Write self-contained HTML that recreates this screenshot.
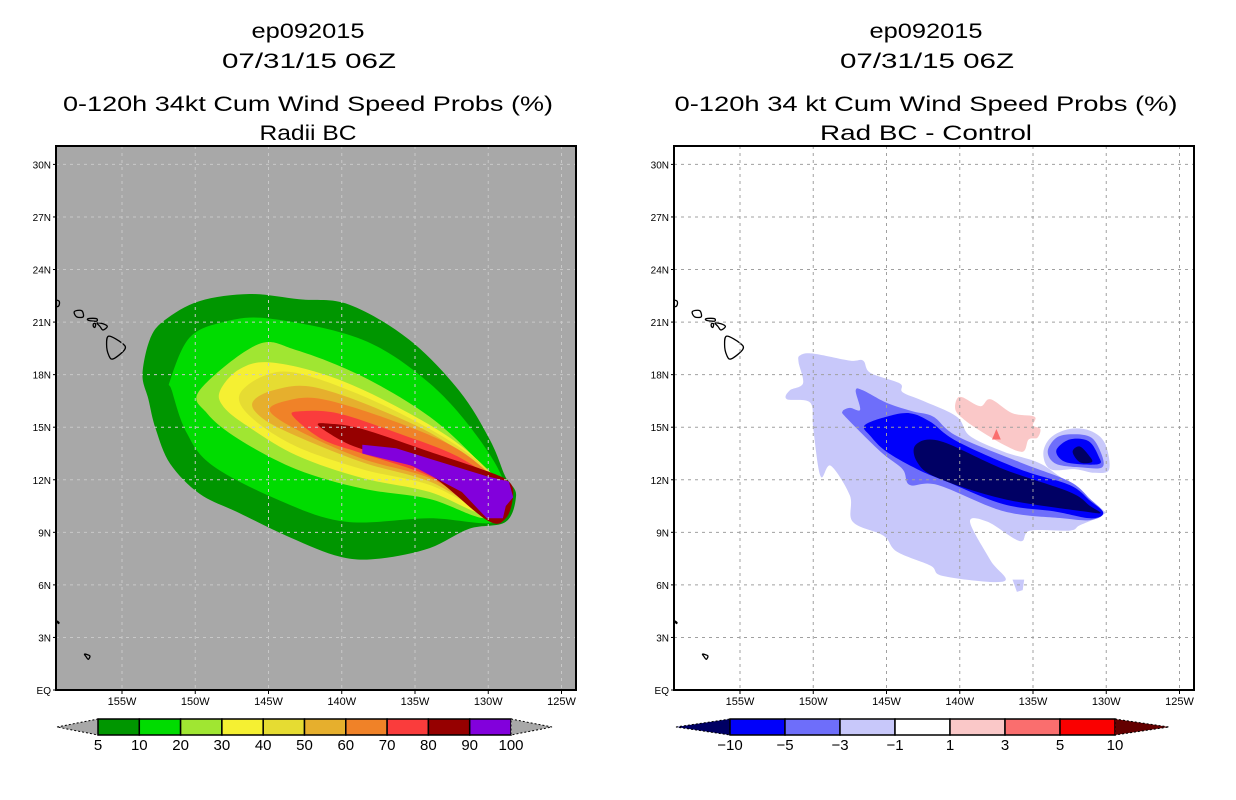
<!DOCTYPE html>
<html><head><meta charset="utf-8"><title>ep092015 wind speed probs</title>
<style>
html,body{margin:0;padding:0;background:#fff;}
svg{display:block;font-family:"Liberation Sans",sans-serif;}
</style></head>
<body>
<svg id="fig" width="1236" height="800" viewBox="0 0 1236 800" xmlns="http://www.w3.org/2000/svg">
<defs>
<clipPath id="clipL"><rect x="56" y="146" width="520" height="544"/></clipPath>
<clipPath id="clipR"><rect x="674" y="146" width="520" height="544"/></clipPath>
</defs>
<g font-size="21" text-anchor="middle" fill="#000">
<text x="308" y="38" textLength="113" lengthAdjust="spacingAndGlyphs">ep092015</text>
<text x="309" y="68" textLength="174" lengthAdjust="spacingAndGlyphs">07/31/15 06Z</text>
<text x="308" y="111" textLength="490" lengthAdjust="spacingAndGlyphs">0-120h 34kt Cum Wind Speed Probs (%)</text>
<text x="308" y="140" textLength="97" lengthAdjust="spacingAndGlyphs">Radii BC</text>
</g>
<g font-size="21" text-anchor="middle" fill="#000">
<text x="926" y="38" textLength="113" lengthAdjust="spacingAndGlyphs">ep092015</text>
<text x="927" y="68" textLength="174" lengthAdjust="spacingAndGlyphs">07/31/15 06Z</text>
<text x="926" y="111" textLength="503" lengthAdjust="spacingAndGlyphs">0-120h 34 kt Cum Wind Speed Probs (%)</text>
<text x="926" y="140" textLength="212" lengthAdjust="spacingAndGlyphs">Rad BC - Control</text>
</g>
<g id="left"></g>
<g id="right"></g>
<g id="cbars"></g>
</svg>
<script>
// ---- data (lon in degrees West, lat in degrees North) ----
var probLevels = [5,10,20,30,40,50,60,70,80,90,100];
var probColors = ["#009600","#00dc00","#a0e632","#f5f032","#e6dc32","#e6af2d","#f08228","#fa3c3c","#960000","#8200dc"];
var diffLevels = [-10,-5,-3,-1,1,3,5,10];
var diffColors = ["#000064","#0000fa","#6e6efa","#c8c8fa","#ffffff","#fac8c8","#fa6e6e","#fa0000","#640000"];
var lonTicks = [155,150,145,140,135,130,125];
var latTicks = [0,3,6,9,12,15,18,21,24,27,30];

var prob5  = [[153.6,18.0],[153.1,20.0],[152.1,21.1],[149.7,22.2],[146.3,22.6],[142.9,22.3],[139.5,22.0],[135.4,20.0],[132.0,17.1],[129.9,14.3],[128.9,12.3],[128.6,11.9],[128.1,11.1],[128.8,9.6],[131.3,9.2],[134.0,8.1],[137.4,7.5],[140.1,7.6],[143.5,8.7],[147.0,10.1],[149.7,11.2],[151.7,12.9],[152.7,14.9],[153.2,16.6]];
var prob10 = [[151.7,17.7],[150.4,20.1],[148.1,21.0],[144.9,21.2],[138.6,20.0],[134.0,17.5],[130.6,14.3],[128.8,11.5],[129.4,9.6],[134.0,9.8],[139.7,9.6],[144.2,10.8],[148.8,12.8],[150.6,14.7],[151.6,17.1]];
var prob20 = [[149.7,17.1],[145.8,19.7],[143.1,19.4],[138.6,17.9],[134.0,15.6],[130.6,13.0],[128.8,11.2],[130.1,9.8],[134.0,10.9],[138.6,11.5],[143.1,12.6],[147.0,14.3],[149.2,15.8]];
var prob30 = [[148.3,17.1],[147.0,18.3],[144.9,18.7],[140.8,17.9],[136.3,16.2],[131.8,13.9],[128.8,11.2],[130.1,10.0],[134.0,11.3],[138.6,12.1],[143.1,13.4],[146.5,15.1],[148.1,16.2]];
var prob40 = [[147.0,16.8],[145.4,17.9],[143.1,18.1],[138.6,16.8],[134.0,14.9],[130.6,13.0],[128.8,11.2],[130.1,10.2],[134.0,11.7],[138.6,12.6],[143.1,13.9],[146.1,15.5]];
var prob50 = [[146.1,16.4],[144.7,17.1],[142.0,17.3],[137.4,16.0],[132.8,14.1],[128.8,11.2],[130.1,10.2],[134.0,11.9],[138.6,13.0],[143.1,14.5],[145.4,15.5]];
var prob60 = [[144.9,15.9],[143.8,16.5],[141.3,16.6],[136.3,15.3],[131.8,13.6],[128.8,11.2],[130.3,10.4],[134.0,12.1],[138.6,13.2],[142.7,14.7]];
var prob70 = [[143.3,15.6],[142.9,15.9],[140.3,15.8],[136.3,14.7],[131.8,13.2],[128.8,11.2],[130.3,10.3],[134.0,12.2],[138.6,13.5],[141.3,14.3]];
var prob80 = [[141.6,15.1],[140.8,15.2],[138.6,14.9],[134.0,13.6],[130.1,12.5],[128.6,11.9],[128.3,11.1],[128.8,9.8],[130.1,9.7],[134.0,12.3],[137.4,13.4],[139.7,14.1]];
var prob90 = [[138.6,14.0],[138.6,13.5],[135.2,12.8],[131.8,11.3],[130.1,9.8],[129.0,9.8],[128.8,10.5],[128.3,11.0],[128.6,11.9],[130.1,12.2],[134.0,13.2],[136.3,13.8]];

var diffLight = [[150.9,19.1],[150.0,19.2],[147.5,18.8],[146.6,18.8],[146.1,18.1],[144.1,17.5],[143.9,17.0],[142.5,16.5],[140.2,15.6],[139.3,14.5],[137.0,13.6],[134.7,13.0],[133.2,12.2],[130.4,10.4],[130.2,10.0],[131.8,9.4],[132.5,9.1],[135.2,9.1],[135.9,8.5],[138.1,9.6],[139.3,9.6],[137.9,7.4],[137.0,6.2],[141.1,6.5],[142.0,7.1],[144.3,7.9],[145.2,8.8],[147.3,9.6],[147.5,11.1],[148.8,12.8],[149.5,12.2],[150.0,14.9],[150.2,16.4],[151.8,16.6],[151.6,17.1],[150.7,17.5],[151.0,18.7]];
var diffLightSouth = [[136.4,6.3],[135.6,6.3],[135.7,5.7],[136.1,5.6]];
var diffMed = [[147.1,17.1],[146.6,17.1],[145.0,16.4],[143.2,15.9],[141.8,15.6],[140.2,14.5],[135.9,13.0],[132.5,11.9],[131.1,10.9],[130.2,10.1],[131.1,9.7],[133.0,9.8],[137.0,10.2],[141.5,11.7],[143.4,11.7],[143.9,12.6],[145.4,13.6],[147.7,15.5],[148.0,15.9],[147.5,16.1],[146.8,16.0]];
var diffBlue = [[146.5,15.1],[145.0,15.6],[143.4,15.8],[142.0,15.3],[140.2,14.2],[135.9,12.6],[132.5,11.7],[131.1,10.8],[130.2,10.1],[131.1,9.8],[133.6,10.2],[137.0,10.6],[140.9,11.9],[142.9,12.6],[145.0,13.6],[146.1,14.5]];
var diffNavy = [[143.0,14.0],[141.3,14.2],[137.0,12.6],[132.5,11.3],[131.1,10.5],[130.4,10.1],[131.6,10.2],[137.0,10.9],[141.5,12.1],[142.9,13.0]];
var eastLight = [[134.3,13.5],[133.8,14.4],[132.5,14.9],[131.1,14.8],[130.1,14.1],[129.8,12.6],[130.8,12.4],[132.1,12.6],[133.8,12.6]];
var eastMed = [[134.0,13.6],[133.4,14.4],[132.3,14.6],[131.0,14.4],[130.3,13.4],[130.3,12.7],[131.6,12.7],[133.4,12.9]];
var eastBlue = [[133.4,13.7],[132.5,14.3],[131.2,14.2],[130.5,13.3],[130.5,12.9],[132.0,12.9],[133.0,13.1]];
var eastNavy = [[132.3,13.6],[131.8,13.9],[131.1,13.3],[131.0,13.0],[131.8,13.0]];
var diffPink = [[140.2,16.6],[139.8,16.7],[138.6,16.2],[137.9,16.6],[136.4,15.8],[134.9,15.6],[135.0,15.1],[134.5,14.9],[134.7,14.4],[135.3,14.3],[135.7,13.6],[137.0,14.0],[138.8,14.9],[139.8,15.5],[140.3,16.0]];
var diffRedSpot = [[137.5,14.9],[137.2,14.3],[137.8,14.3]];

var islands = [
 [[155.9,20.2],[155.0,19.8],[154.8,19.45],[155.6,18.9],[155.9,19.1],[156.05,19.7]],
 [[156.7,20.95],[156.3,20.9],[156.0,20.75],[156.3,20.55],[156.5,20.75]],
 [[157.3,21.2],[156.75,21.2],[156.75,21.05],[157.3,21.1]],
 [[156.95,20.9],[156.8,20.9],[156.85,20.7],[156.95,20.75]],
 [[158.25,21.6],[157.75,21.65],[157.65,21.3],[158.1,21.3]],
 [[159.75,22.25],[159.3,22.2],[159.35,21.9],[159.75,21.95]],
 [[157.55,2.05],[157.2,1.95],[157.3,1.75],[157.45,1.9]],
 [[159.45,3.95],[159.3,3.85],[159.35,3.8]]
];

// ---- helpers ----
var NS = "http://www.w3.org/2000/svg";
function mk(tag, attrs, parent){ var e=document.createElementNS(NS,tag); for(var k in attrs) e.setAttribute(k,attrs[k]); if(parent) parent.appendChild(e); return e; }
function xScale(off){ return function(lon){ return off + 122 + (155 - lon) * 14.65; }; }
function yScale(lat){ return 690 - lat * 17.52; }
function smoothPath(pts, fx){
  var P = pts.map(function(p){ return [fx(p[0]), yScale(p[1])]; });
  var n = P.length, d = "M" + P[0][0].toFixed(1) + "," + P[0][1].toFixed(1);
  for (var i=0;i<n;i++){
    var p0=P[(i-1+n)%n], p1=P[i], p2=P[(i+1)%n], p3=P[(i+2)%n];
    var c1=[p1[0]+(p2[0]-p0[0])/6, p1[1]+(p2[1]-p0[1])/6];
    var c2=[p2[0]-(p3[0]-p1[0])/6, p2[1]-(p3[1]-p1[1])/6];
    d += "C"+c1[0].toFixed(1)+","+c1[1].toFixed(1)+" "+c2[0].toFixed(1)+","+c2[1].toFixed(1)+" "+p2[0].toFixed(1)+","+p2[1].toFixed(1);
  }
  return d + "Z";
}
function polyPath(pts, fx){
  return "M" + pts.map(function(p){ return fx(p[0]).toFixed(1)+","+yScale(p[1]).toFixed(1); }).join("L") + "Z";
}

function drawPanel(g, off, bg, gridColor, clipId, fills){
  var fx = xScale(off);
  var left = 56 + off, right = 576 + off;
  var bgRect = mk("rect",{x:left,y:146,width:520,height:544,fill:bg},g);
  
  
  var cg = mk("g",{"clip-path":"url(#"+clipId+")"},g);
  
  
  fills.forEach(function(f){
    var p = mk("path",{d:(f.poly?polyPath(f.pts,fx):smoothPath(f.pts,fx)),fill:f.color},cg);
    
    
  });
  // coastlines
  islands.forEach(function(isl){
    var p = mk("path",{d:smoothPath(isl,fx),fill:"none",stroke:"#000","stroke-width":1.3},cg);
    
    
  });
  // grid
  lonTicks.forEach(function(lon){
    var x = fx(lon);
    var l = mk("line",{x1:x,y1:146,x2:x,y2:690,stroke:gridColor,"stroke-width":1,"stroke-dasharray":"3,4"},cg);
    
    
    var t = mk("text",{x:x,y:705,"font-size":11,"text-anchor":"middle",fill:"#000"},g);
    t.textContent = lon + "W";
    
    
    var tk = mk("line",{x1:x,y1:690,x2:x,y2:694,stroke:"#000","stroke-width":1},g);
    
    
  });
  latTicks.forEach(function(lat){
    var y = yScale(lat);
    if (lat > 0){
      var l = mk("line",{x1:left,y1:y,x2:right,y2:y,stroke:gridColor,"stroke-width":1,"stroke-dasharray":"3,4"},cg);
      
      
    }
    var t = mk("text",{x:left-5,y:y+4,"font-size":10,"text-anchor":"end",fill:"#000"},g);
    t.textContent = lat === 0 ? "EQ" : lat + "N";
    
    
    var tk = mk("line",{x1:left-3,y1:y,x2:left,y2:y,stroke:"#000","stroke-width":1},g);
    
    
  });
  var fr = mk("rect",{x:left,y:146,width:520,height:544,fill:"none",stroke:"#000","stroke-width":2},g);
  
  
}

drawPanel(document.getElementById("left"), 0, "#a8a8a8", "#c8c8c8", "clipL", [
  {name:"prob-5",color:probColors[0],pts:prob5},
  {name:"prob-10",color:probColors[1],pts:prob10},
  {name:"prob-20",color:probColors[2],pts:prob20},
  {name:"prob-30",color:probColors[3],pts:prob30},
  {name:"prob-40",color:probColors[4],pts:prob40},
  {name:"prob-50",color:probColors[5],pts:prob50},
  {name:"prob-60",color:probColors[6],pts:prob60},
  {name:"prob-70",color:probColors[7],pts:prob70},
  {name:"prob-80",color:probColors[8],pts:prob80},
  {name:"prob-90",color:probColors[9],pts:prob90,poly:true}
]);
drawPanel(document.getElementById("right"), 618, "#ffffff", "#a0a0a0", "clipR", [
  {name:"diff-minus1",color:diffColors[3],pts:diffLight},
  {name:"diff-minus1-south",color:diffColors[3],pts:diffLightSouth,poly:true},
  {name:"diff-minus1-east",color:diffColors[3],pts:eastLight},
  {name:"diff-minus3",color:diffColors[2],pts:diffMed},
  {name:"diff-minus3-east",color:diffColors[2],pts:eastMed},
  {name:"diff-minus5",color:diffColors[1],pts:diffBlue},
  {name:"diff-minus5-east",color:diffColors[1],pts:eastBlue},
  {name:"diff-minus10",color:diffColors[0],pts:diffNavy},
  {name:"diff-minus10-east",color:diffColors[0],pts:eastNavy},
  {name:"diff-plus1",color:diffColors[5],pts:diffPink},
  {name:"diff-plus3",color:diffColors[6],pts:diffRedSpot,poly:true}
]);

// ---- colorbars ----
function colorbar(g, x0, boxW, tipW, labels, colors, name){
  var n = labels.length - 1;          // number of boxes
  var y0 = 719, y1 = 735, ym = 727;
  var cb = mk("g",{},g);
  
  
  var bx = x0 + tipW;
  var lt = mk("polygon",{points:x0+","+ym+" "+bx+","+y0+" "+bx+","+y1,fill:colors[0],stroke:"#000","stroke-width":1,"stroke-dasharray":"2,2"},cb);
  
  
  for (var i=0;i<n;i++){
    var r = mk("rect",{x:bx+i*boxW,y:y0,width:boxW,height:y1-y0,fill:colors[i+1],stroke:"#000","stroke-width":1.5},cb);
    
    
  }
  var ex = bx + n*boxW;
  var rt = mk("polygon",{points:ex+","+y0+" "+(ex+tipW)+","+ym+" "+ex+","+y1,fill:colors[n+1],stroke:"#000","stroke-width":1,"stroke-dasharray":"2,2"},cb);
  
  
  labels.forEach(function(lb,i){
    var t = mk("text",{x:bx+i*boxW,y:750,"font-size":15,"text-anchor":"middle",fill:"#000"},cb);
    t.textContent = (lb < 0 ? "\u2212" + Math.abs(lb) : String(lb));
    
    
  });
}
var cbg = document.getElementById("cbars");
colorbar(cbg, 57, 41.3, 41, probLevels, ["#a8a8a8"].concat(probColors).concat(["#a8a8a8"]), "left-colorbar");
colorbar(cbg, 676, 55, 54, diffLevels, diffColors, "right-colorbar");
</script>
</body></html>
